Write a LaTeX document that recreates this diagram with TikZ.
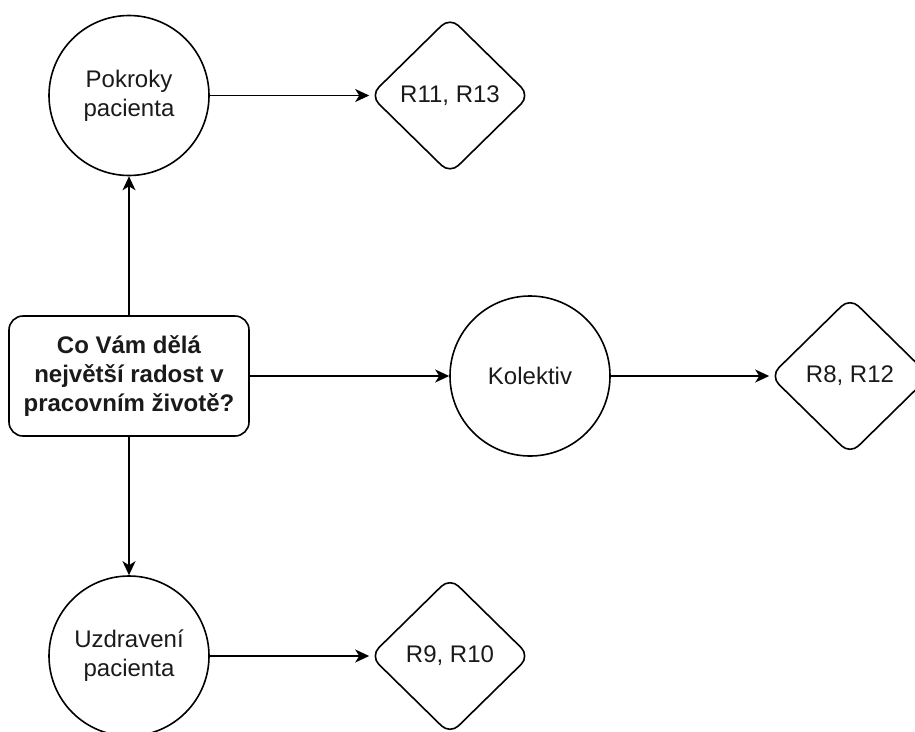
\documentclass[tikz,border=0pt]{standalone}
\usepackage{fontspec}
\setmainfont{Liberation Sans}
\usetikzlibrary{shapes.geometric,arrows.meta}

\definecolor{ink}{HTML}{1A1A1A}

\tikzset{
  base/.style={draw=black, line width=1.6pt, text=ink, align=center,
    font=\fontsize{24}{29}\selectfont, inner sep=0pt},
  question/.style={base, rectangle, rounded corners=14pt,
    minimum width=240pt, minimum height=120pt, font=\fontsize{24}{29}\selectfont\bfseries},
  topic/.style={base, circle, minimum size=160pt},
  codes/.style={base, diamond, rounded corners=12pt,
    minimum width=160pt, minimum height=157pt},
  arr/.style={draw=black, line width=1.6pt,
    -{Stealth[length=14pt, width=13pt, inset=4pt]}}
}

\begin{document}
\begin{tikzpicture}[x=1pt, y=-1pt]
  \useasboundingbox (0,0) rectangle (915,731);

  % central question
  \node[question] (q) at (129,376) {Co Vám dělá\\největší radost v\\pracovním životě?};

  % answer topics
  \node[topic] (pokroky) at (129,95.5) {Pokroky\\pacienta};
  \node[topic] (kolektiv) at (530,376) {Kolektiv};
  \node[topic] (uzdraveni) at (129,656) {Uzdravení\\pacienta};

  % respondent codes
  \node[codes] (r1113) at (450,95.5) {R11, R13};
  \node[codes] (r812) at (850,376) {R8, R12};
  \node[codes] (r910) at (450,656) {R9, R10};

  % connectors
  \draw[arr] (q) -- (pokroky);
  \draw[arr] (q) -- (kolektiv);
  \draw[arr] (q) -- (uzdraveni);
  \draw[arr] (pokroky) -- (r1113);
  \draw[arr] (kolektiv) -- (r812);
  \draw[arr] (uzdraveni) -- (r910);
\end{tikzpicture}
\end{document}
